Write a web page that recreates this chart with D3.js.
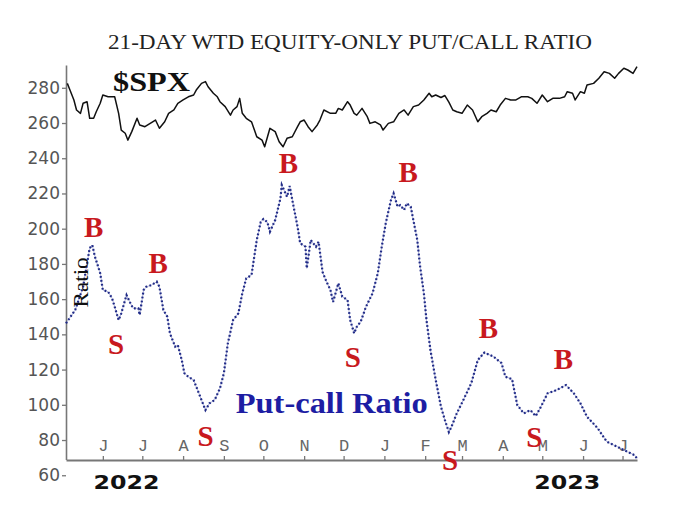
<!DOCTYPE html>
<html><head><meta charset="utf-8">
<script src="https://cdn.jsdelivr.net/npm/d3@7"></script>
<style>body{margin:0;background:#fff}svg{display:block}</style>
</head><body>
<svg id="chart" width="700" height="523"></svg>
<script>
// ---------------- DATA ----------------
const chartTitle = "21-DAY WTD EQUITY-ONLY PUT/CALL RATIO";

const ratioDates = ["2022-05-04","2022-05-11","2022-05-17","2022-05-22","2022-05-24","2022-05-26","2022-05-30","2022-06-01","2022-06-05","2022-06-08","2022-06-10","2022-06-13","2022-06-15","2022-06-19","2022-06-22","2022-06-24","2022-06-28","2022-06-29","2022-07-02","2022-07-04","2022-07-08","2022-07-12","2022-07-14","2022-07-17","2022-07-20","2022-07-22","2022-07-26","2022-07-28","2022-07-31","2022-08-02","2022-08-05","2022-08-09","2022-08-11","2022-08-14","2022-08-18","2022-08-21","2022-08-25","2022-08-29","2022-09-01","2022-09-04","2022-09-08","2022-09-12","2022-09-15","2022-09-18","2022-09-22","2022-09-26","2022-09-29","2022-10-01","2022-10-04","2022-10-06","2022-10-10","2022-10-14","2022-10-15","2022-10-19","2022-10-21","2022-10-24","2022-10-27","2022-10-29","2022-11-02","2022-11-03","2022-11-06","2022-11-10","2022-11-12","2022-11-15","2022-11-18","2022-11-21","2022-11-23","2022-11-27","2022-11-30","2022-12-04","2022-12-06","2022-12-09","2022-12-11","2022-12-14","2022-12-18","2022-12-23","2022-12-27","2022-12-30","2023-01-02","2023-01-06","2023-01-08","2023-01-11","2023-01-13","2023-01-16","2023-01-18","2023-01-21","2023-01-23","2023-01-26","2023-01-28","2023-01-31","2023-02-02","2023-02-05","2023-02-09","2023-02-13","2023-02-16","2023-02-19","2023-02-21","2023-02-25","2023-03-02","2023-03-08","2023-03-13","2023-03-18","2023-03-25","2023-03-31","2023-04-03","2023-04-08","2023-04-12","2023-04-17","2023-04-22","2023-04-26","2023-04-30","2023-05-05","2023-05-12","2023-05-19","2023-05-25","2023-05-30","2023-06-04","2023-06-12","2023-06-19","2023-06-27","2023-07-02","2023-07-10","2023-07-12"];
const ratioValues = [146.3,153.8,167.0,189.0,190.7,184.1,174.7,165.2,164.2,160.5,155.7,148.1,151.9,162.3,157.6,154.8,154.8,151.0,165.2,167.0,168.0,169.9,167.0,153.8,150.0,140.6,133.0,133.9,125.4,117.9,115.9,114.1,110.3,104.6,97.0,100.8,102.7,109.3,117.9,134.9,148.1,151.9,163.3,171.8,173.7,193.6,203.8,205.5,203.8,198.3,204.9,217.2,224.8,218.1,224.2,212.5,201.1,191.7,189.8,177.5,193.6,189.8,192.6,175.4,169.9,165.2,158.4,169.0,161.4,159.5,148.1,140.6,144.3,147.2,155.7,163.3,174.7,189.8,203.0,216.3,220.1,212.5,213.4,210.6,214.4,212.5,204.9,193.6,179.4,163.3,148.1,131.1,114.1,98.9,91.3,84.5,87.5,95.1,102.7,112.2,125.4,129.7,127.3,123.7,115.9,114.6,99.9,95.1,97.0,93.6,98.9,106.5,108.4,111.2,106.5,100.8,93.2,86.8,79.1,76.2,74.3,71.5,69.6];

// $SPX, drawn on the chart's own axis units
const spxDates = ["2022-05-05","2022-05-07","2022-05-10","2022-05-12","2022-05-15","2022-05-17","2022-05-20","2022-05-22","2022-05-25","2022-05-27","2022-05-30","2022-06-01","2022-06-05","2022-06-08","2022-06-10","2022-06-13","2022-06-15","2022-06-18","2022-06-20","2022-06-23","2022-06-27","2022-06-29","2022-07-03","2022-07-07","2022-07-11","2022-07-14","2022-07-18","2022-07-21","2022-07-25","2022-07-28","2022-08-01","2022-08-05","2022-08-09","2022-08-11","2022-08-15","2022-08-18","2022-08-20","2022-08-24","2022-08-27","2022-08-29","2022-09-02","2022-09-06","2022-09-08","2022-09-11","2022-09-13","2022-09-15","2022-09-18","2022-09-22","2022-09-26","2022-09-30","2022-10-02","2022-10-06","2022-10-10","2022-10-13","2022-10-16","2022-10-19","2022-10-23","2022-10-27","2022-10-29","2022-11-01","2022-11-04","2022-11-07","2022-11-11","2022-11-13","2022-11-16","2022-11-21","2022-11-25","2022-11-27","2022-11-30","2022-12-04","2022-12-06","2022-12-09","2022-12-11","2022-12-15","2022-12-19","2022-12-21","2022-12-25","2022-12-29","2022-12-31","2023-01-04","2023-01-08","2023-01-12","2023-01-16","2023-01-19","2023-01-23","2023-01-27","2023-01-31","2023-02-04","2023-02-06","2023-02-09","2023-02-13","2023-02-16","2023-02-19","2023-02-22","2023-02-25","2023-03-01","2023-03-05","2023-03-09","2023-03-13","2023-03-16","2023-03-20","2023-03-23","2023-03-27","2023-03-30","2023-04-03","2023-04-07","2023-04-11","2023-04-15","2023-04-20","2023-04-23","2023-04-27","2023-05-01","2023-05-05","2023-05-09","2023-05-14","2023-05-18","2023-05-20","2023-05-24","2023-05-26","2023-05-30","2023-06-02","2023-06-04","2023-06-09","2023-06-13","2023-06-17","2023-06-21","2023-06-25","2023-06-28","2023-07-02","2023-07-05","2023-07-09","2023-07-12"];
const spxValues = [282.5,278.7,273.1,267.4,265.5,271.2,272.1,262.7,262.7,266.4,271.2,275.9,274.9,274.9,274.9,265.5,256.0,254.2,250.3,255.1,262.7,258.9,257.9,259.8,261.7,257.0,260.7,265.5,267.4,271.2,273.1,274.9,275.9,278.7,282.5,283.5,280.6,276.9,274.9,272.1,269.3,264.5,267.4,269.3,274.0,265.5,262.7,260.7,252.2,250.3,246.5,257.0,255.1,249.4,246.5,251.3,252.2,257.9,260.7,261.7,257.9,255.1,258.9,261.7,267.4,265.5,265.5,268.3,267.4,272.1,270.2,265.5,264.5,268.3,263.6,259.8,260.7,258.9,256.0,259.8,260.7,265.5,267.4,264.5,269.3,270.2,273.1,276.9,274.9,275.9,274.5,275.6,271.9,267.4,266.4,265.5,270.2,267.4,260.7,263.6,265.5,267.4,266.4,270.2,274.0,273.1,273.1,274.9,274.9,274.0,271.2,275.9,272.1,274.0,274.0,274.9,277.8,276.9,273.1,277.8,276.9,281.6,282.5,285.4,289.1,288.2,285.4,288.2,291.1,290.1,288.2,292.0];

const yTickValues = [60,80,100,120,140,160,180,200,220,240,260,280];
const yDomain = [69, 293];
const monthTickDates = ["2022-06-01","2022-07-01","2022-08-01","2022-09-01","2022-10-01","2022-11-01","2022-12-01","2023-01-01","2023-02-01","2023-03-01","2023-04-01","2023-05-01","2023-06-01","2023-07-01"];
const monthTickLabels = ["J","J","A","S","O","N","D","J","F","M","A","M","J","J"];
const yearLabels = ["2022","2023"];
const yearLabelDates = ["2022-06-19","2023-05-20"];

const signalTypes  = ["B","S","B","S","B","S","B","S","B","S","B"];
const signalDates  = ["2022-05-25","2022-06-11","2022-07-13","2022-08-18","2022-10-20","2022-12-08","2023-01-19","2023-02-20","2023-03-21","2023-04-25","2023-05-17"];
const signalValues = [201.0,134.5,180.5,82.3,237.5,127.5,232.5,68.5,143.5,81.7,126.0];

const seriesLabels = ["$SPX","Put-call Ratio","Ratio"];
const seriesLabelDates = ["2022-07-08","2022-11-22","2022-05-15"];
const seriesLabelValues = [278.0,95.3,169.5];

// ---------------- CHART ----------------
const parse = d3.utcParse("%Y-%m-%d");
const svg = d3.select("#chart");
svg.append("rect").attr("width",700).attr("height",523).attr("fill","#fff");

const rD = ratioDates.map(parse);
const sD = spxDates.map(parse);
const x = d3.scaleUtc().domain(d3.extent(rD)).range([66, 637]);
const y = d3.scaleLinear().domain(yDomain).range([459.4, 64.9]);

// Title
svg.append("text").attr("x",350).attr("y",49).attr("text-anchor","middle")
  .attr("font-family","Liberation Serif, serif").attr("font-size",20).attr("fill","#222")
  .attr("textLength",484).attr("lengthAdjust","spacingAndGlyphs").text(chartTitle);

// Y axis
const yAxis = svg.append("g").attr("transform","translate(66,0)")
  .call(d3.axisLeft(y).tickValues(yTickValues).tickSize(4).tickSizeOuter(0).tickPadding(2));
yAxis.select(".domain").attr("stroke","#777").attr("stroke-width",1.6);
yAxis.selectAll(".tick line").attr("stroke","#777").attr("stroke-width",1.3);
yAxis.selectAll(".tick text").attr("font-family","DejaVu Sans, sans-serif").attr("font-size",17).attr("fill","#555");

// X axis (ticks and labels above the baseline)
const xAxis = svg.append("g").attr("transform","translate(0,460)")
  .call(d3.axisTop(x).tickValues(monthTickDates.map(parse)).tickSize(4).tickSizeOuter(0).tickPadding(5)
    .tickFormat((d,i)=>monthTickLabels[i]));
xAxis.select(".domain").attr("stroke","#777").attr("stroke-width",2);
xAxis.selectAll(".tick line").attr("stroke","#777").attr("stroke-width",1.3);
xAxis.selectAll(".tick text").attr("font-family","Liberation Mono, monospace").attr("font-size",17).attr("fill","#666");

// Year labels
svg.selectAll(".year").data(yearLabels).enter().append("text")
  .attr("x",(d,i)=>x(parse(yearLabelDates[i]))).attr("y",489).attr("text-anchor","middle")
  .attr("font-family","DejaVu Sans, sans-serif").attr("font-weight","bold").attr("font-size",20)
  .attr("fill","#111").attr("textLength",66).attr("lengthAdjust","spacingAndGlyphs").text(d=>d);

// SPX line
svg.append("path").datum(spxValues.map((v,i)=>[sD[i],v]))
  .attr("fill","none").attr("stroke","#111").attr("stroke-width",1.5).attr("stroke-linejoin","round")
  .attr("d", d3.line().x(d=>x(d[0])).y(d=>y(d[1])));

// Ratio line (dotted)
const ratioLine = d3.line().x(d=>x(d[0])).y(d=>y(d[1]));
const rData = ratioValues.map((v,i)=>[rD[i],v]);
svg.append("path").datum(rData).attr("fill","none").attr("stroke","#9aa0d0").attr("stroke-width",0.8).attr("d",ratioLine);
svg.append("path").datum(rData).attr("fill","none").attr("stroke","#1f2a86").attr("stroke-width",2.2)
  .attr("stroke-dasharray","1.8 2.2").attr("d",ratioLine);

// Series labels
svg.append("text").attr("x",x(parse(seriesLabelDates[0]))).attr("y",y(seriesLabelValues[0]))
  .attr("text-anchor","middle").attr("font-family","Liberation Serif, serif").attr("font-weight","bold")
  .attr("font-size",28).attr("fill","#111").attr("textLength",77).attr("lengthAdjust","spacingAndGlyphs").text(seriesLabels[0]);
svg.append("text").attr("x",x(parse(seriesLabelDates[1]))).attr("y",y(seriesLabelValues[1]))
  .attr("text-anchor","middle").attr("font-family","Liberation Serif, serif").attr("font-weight","bold")
  .attr("font-size",29).attr("fill","#1d1da3").attr("textLength",192).attr("lengthAdjust","spacingAndGlyphs").text(seriesLabels[1]);
const rx = x(parse(seriesLabelDates[2])), ry = y(seriesLabelValues[2]);
svg.append("text").attr("transform",`translate(${rx},${ry}) rotate(-90)`).attr("text-anchor","middle")
  .attr("dy","0.35em").attr("font-family","Liberation Serif, serif").attr("font-size",21).attr("fill","#111")
  .attr("textLength",50).attr("lengthAdjust","spacingAndGlyphs").text(seriesLabels[2]);

// Buy / Sell signals
svg.selectAll(".sig").data(signalTypes).enter().append("text")
  .attr("x",(d,i)=>x(parse(signalDates[i]))).attr("y",(d,i)=>y(signalValues[i]))
  .attr("dy","0.35em").attr("text-anchor","middle")
  .attr("font-family","Liberation Serif, serif").attr("font-weight","bold").attr("font-size",29)
  .attr("fill","#c8191e").text(d=>d);
</script>
</body></html>
